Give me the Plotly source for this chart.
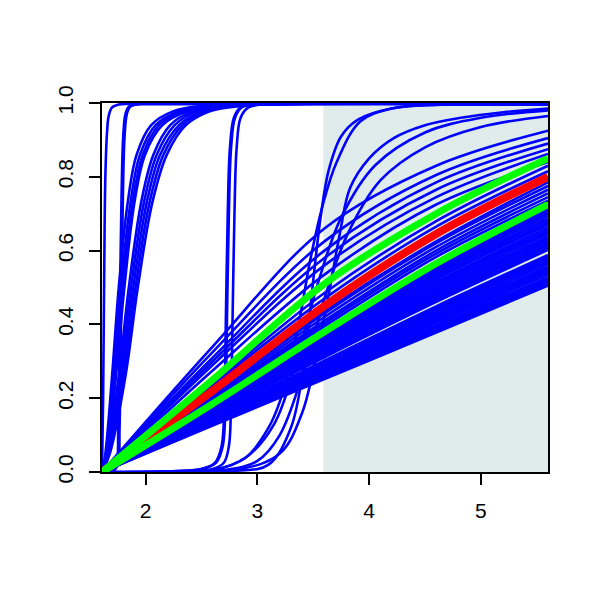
import plotly.graph_objects as go

# ---------------- data ----------------
X_KNOTS = [1.61, 2.6, 3.6, 4.6, 5.6]

# near-linear / concave bundle (values at X_KNOTS)
upper_bundle = [
    [0, 0.34, 0.66, 0.83, 0.925],
    [0, 0.325, 0.625, 0.805, 0.905],
    [0, 0.31, 0.60, 0.785, 0.89],
    [0, 0.30, 0.58, 0.765, 0.875],
    [0, 0.29, 0.56, 0.745, 0.862],
    [0, 0.275, 0.535, 0.725, 0.84],
    [0, 0.24, 0.485, 0.68, 0.83],
    [0, 0.235, 0.47, 0.665, 0.815],
]
middle_bundle = [
    [0, 0.213, 0.435, 0.625, 0.785],
    [0, 0.21, 0.43, 0.62, 0.775],
    [0, 0.205, 0.42, 0.61, 0.765],
    [0, 0.20, 0.41, 0.60, 0.755],
    [0, 0.197, 0.403, 0.592, 0.745],
    [0, 0.195, 0.395, 0.583, 0.735],
]
lower_bundle = [
    [0, 0.126, 0.252, 0.378, 0.505],
    [0, 0.128, 0.256, 0.383, 0.511],
    [0, 0.130, 0.259, 0.388, 0.517],
    [0, 0.131, 0.262, 0.393, 0.522],
    [0, 0.133, 0.266, 0.398, 0.528],
    [0, 0.135, 0.270, 0.404, 0.535],
    [0, 0.137, 0.273, 0.408, 0.541],
    [0, 0.138, 0.276, 0.413, 0.546],
    [0, 0.140, 0.280, 0.418, 0.552],
    [0, 0.142, 0.283, 0.423, 0.558],
    [0, 0.144, 0.288, 0.429, 0.565],
    [0, 0.146, 0.291, 0.435, 0.571],
    [0, 0.148, 0.295, 0.440, 0.577],
    [0, 0.149, 0.298, 0.444, 0.582],
    [0, 0.151, 0.302, 0.449, 0.588],
    [0, 0.155, 0.311, 0.461, 0.602],
    [0, 0.157, 0.314, 0.466, 0.608],
    [0, 0.159, 0.318, 0.472, 0.614],
    [0, 0.161, 0.322, 0.477, 0.620],
    [0, 0.163, 0.326, 0.483, 0.626],
    [0, 0.165, 0.329, 0.488, 0.632],
    [0, 0.167, 0.333, 0.493, 0.638],
    [0, 0.169, 0.337, 0.499, 0.645],
    [0, 0.171, 0.341, 0.505, 0.651],
    [0, 0.173, 0.345, 0.510, 0.657],
    [0, 0.175, 0.349, 0.515, 0.663],
    [0, 0.177, 0.353, 0.522, 0.670],
    [0, 0.179, 0.357, 0.527, 0.676],
    [0, 0.181, 0.361, 0.533, 0.682],
    [0, 0.183, 0.365, 0.538, 0.688],
    [0, 0.185, 0.370, 0.544, 0.695],
    [0, 0.187, 0.374, 0.550, 0.701],
    [0, 0.189, 0.378, 0.555, 0.707],
    [0, 0.191, 0.381, 0.560, 0.713],
    [0, 0.194, 0.386, 0.567, 0.720],
]

red_curve = [0, 0.22, 0.45, 0.645, 0.80]
green_upper = [0, 0.25, 0.51, 0.70, 0.85]
green_lower = [0, 0.185, 0.38, 0.565, 0.725]

# steep S-shaped curves (each with own knots)
sig_x = [
    [1.61, 1.62, 1.63, 1.64, 1.655, 1.67, 1.70, 1.76, 1.9, 5.6],
    [1.61, 1.70, 1.74, 1.755, 1.77, 1.785, 1.80, 1.82, 1.85, 1.92, 5.6],
    [1.61, 1.71, 1.752, 1.767, 1.782, 1.797, 1.812, 1.832, 1.862, 1.932, 5.6],
    [1.61, 1.64, 1.70, 1.76, 1.84, 1.92, 2.05, 2.25, 2.5, 2.9, 5.6],
    [1.61, 1.65, 1.715, 1.78, 1.865, 1.95, 2.09, 2.3, 2.55, 2.95, 5.6],
    [1.61, 1.655, 1.725, 1.795, 1.885, 1.975, 2.12, 2.34, 2.6, 3.0, 5.6],
    [1.61, 1.66, 1.735, 1.81, 1.90, 1.995, 2.15, 2.38, 2.65, 3.05, 5.6],
    [1.61, 1.66, 1.76, 1.85, 1.96, 2.07, 2.22, 2.42, 2.65, 3.05, 5.6],
    [1.61, 1.665, 1.775, 1.87, 1.985, 2.10, 2.26, 2.46, 2.7, 3.1, 5.6],
    [1.61, 1.67, 1.79, 1.89, 2.01, 2.13, 2.30, 2.50, 2.75, 3.15, 5.6],
    [1.61, 1.675, 1.805, 1.91, 2.035, 2.16, 2.33, 2.54, 2.8, 3.2, 5.6],
    [1.61, 1.68, 1.82, 1.93, 2.06, 2.19, 2.36, 2.58, 2.85, 3.25, 5.6],
    [1.61, 2.2, 2.5, 2.62, 2.68, 2.705, 2.72, 2.735, 2.755, 2.79, 2.85, 3.0, 5.6],
    [1.61, 2.2, 2.5, 2.63, 2.69, 2.715, 2.73, 2.745, 2.765, 2.80, 2.86, 3.0, 5.6],
    [1.61, 2.3, 2.6, 2.7, 2.745, 2.765, 2.78, 2.795, 2.815, 2.85, 2.92, 3.08, 5.6],
    [1.61, 2.8, 3.1, 3.3, 3.42, 3.5, 3.57, 3.64, 3.75, 3.9, 4.2, 4.6, 5.6],
    [1.61, 2.8, 3.2, 3.4, 3.55, 3.65, 3.74, 3.83, 4.0, 4.22, 4.5, 4.82, 5.2, 5.6],
    [1.61, 2.6, 2.9, 3.1, 3.2, 3.3, 3.4, 3.47, 3.6, 3.71, 3.92, 4.2, 4.52, 5.6],
    [1.61, 2.7, 3.0, 3.2, 3.4, 3.6, 3.8, 4.1, 4.5, 5.0, 5.6],
    [1.61, 2.6, 2.9, 3.15, 3.35, 3.55, 3.75, 4.05, 4.5, 5.0, 5.6],
]
sig_y = [
    [0, 0.2, 0.55, 0.8, 0.92, 0.965, 0.988, 0.996, 0.997, 0.997],
    [0, 0.003, 0.02, 0.12, 0.45, 0.75, 0.91, 0.97, 0.99, 0.997, 0.997],
    [0, 0.003, 0.02, 0.12, 0.45, 0.75, 0.91, 0.97, 0.99, 0.997, 0.997],
    [0, 0.05, 0.26, 0.5, 0.73, 0.86, 0.94, 0.978, 0.992, 0.997, 0.997],
    [0, 0.05, 0.26, 0.5, 0.73, 0.86, 0.94, 0.978, 0.992, 0.997, 0.997],
    [0, 0.05, 0.26, 0.5, 0.73, 0.86, 0.94, 0.978, 0.992, 0.997, 0.997],
    [0, 0.05, 0.26, 0.5, 0.73, 0.86, 0.94, 0.978, 0.992, 0.997, 0.997],
    [0, 0.05, 0.26, 0.5, 0.73, 0.86, 0.94, 0.978, 0.992, 0.997, 0.997],
    [0, 0.05, 0.26, 0.5, 0.73, 0.86, 0.94, 0.978, 0.992, 0.997, 0.997],
    [0, 0.05, 0.26, 0.5, 0.73, 0.86, 0.94, 0.978, 0.992, 0.997, 0.997],
    [0, 0.05, 0.26, 0.5, 0.73, 0.86, 0.94, 0.978, 0.992, 0.997, 0.997],
    [0, 0.05, 0.26, 0.5, 0.73, 0.86, 0.94, 0.978, 0.992, 0.997, 0.997],
    [0, 0.002, 0.008, 0.025, 0.07, 0.2, 0.45, 0.7, 0.88, 0.96, 0.988, 0.997, 0.997],
    [0, 0.002, 0.008, 0.025, 0.07, 0.2, 0.45, 0.7, 0.88, 0.96, 0.988, 0.997, 0.997],
    [0, 0.002, 0.008, 0.025, 0.07, 0.2, 0.45, 0.7, 0.88, 0.96, 0.988, 0.997, 0.997],
    [0, 0.003, 0.02, 0.12, 0.3, 0.52, 0.7, 0.82, 0.91, 0.955, 0.985, 0.995, 0.997],
    [0, 0.005, 0.05, 0.16, 0.35, 0.5, 0.65, 0.77, 0.85, 0.905, 0.94, 0.96, 0.975, 0.985],
    [0, 0.005, 0.04, 0.12, 0.19, 0.3, 0.45, 0.57, 0.74, 0.84, 0.95, 0.985, 0.995, 0.997],
    [0, 0.005, 0.03, 0.1, 0.26, 0.47, 0.64, 0.79, 0.88, 0.935, 0.965],
    [0, 0.005, 0.04, 0.13, 0.3, 0.52, 0.69, 0.83, 0.92, 0.96, 0.98],
]

shade_from = 3.59
x_ticks = [2, 3, 4, 5]
y_ticks = [0.0, 0.2, 0.4, 0.6, 0.8, 1.0]
y_tick_text = ["0.0", "0.2", "0.4", "0.6", "0.8", "1.0"]

# ---------------- figure ----------------
BLUE = "#0000FF"
fig = go.Figure()

def blue_line(xs, ys):
    fig.add_trace(go.Scatter(x=xs, y=ys, mode="lines",
                             line=dict(color=BLUE, width=2.6, shape="spline", smoothing=1.0),
                             hoverinfo="skip"))

for xs, ys in zip(sig_x, sig_y):
    blue_line(xs, ys)
for ys in lower_bundle + middle_bundle + upper_bundle:
    blue_line(X_KNOTS, ys)

fig.add_trace(go.Scatter(x=X_KNOTS, y=red_curve, mode="lines",
                         line=dict(color="#FF0000", width=8, shape="spline"), hoverinfo="skip"))
for ys in (green_upper, green_lower):
    fig.add_trace(go.Scatter(x=X_KNOTS, y=ys, mode="lines",
                             line=dict(color="#00FF00", width=7, shape="spline"), hoverinfo="skip"))

fig.add_shape(type="rect", xref="x", yref="y", x0=shade_from, x1=5.6, y0=0, y1=1,
              fillcolor="#E0ECEC", line=dict(width=0), layer="below")

font = dict(family="Liberation Sans, Arial, Helvetica, sans-serif", size=21, color="black")
fig.update_layout(
    width=600, height=600,
    margin=dict(l=102, r=52, t=103, b=128, pad=0),
    paper_bgcolor="white", plot_bgcolor="white",
    showlegend=False, font=font,
)
fig.update_xaxes(range=[1.61, 5.6], tickvals=x_ticks, ticks="outside", ticklen=11, tickwidth=2,
                 tickcolor="black", showline=True, linewidth=2, linecolor="black", mirror=True,
                 showgrid=False, zeroline=False, tickfont=font, ticklabelstandoff=8)
fig.update_yaxes(range=[0, 1], tickvals=y_ticks, ticktext=y_tick_text, tickangle=-90,
                 ticks="outside", ticklen=11, tickwidth=2, tickcolor="black",
                 showline=True, linewidth=2, linecolor="black", mirror=True,
                 showgrid=False, zeroline=False, tickfont=font, ticklabelstandoff=8)

fig.write_html("out.html", config={"displayModeBar": False},
               post_script="document.body.style.margin='0';")
